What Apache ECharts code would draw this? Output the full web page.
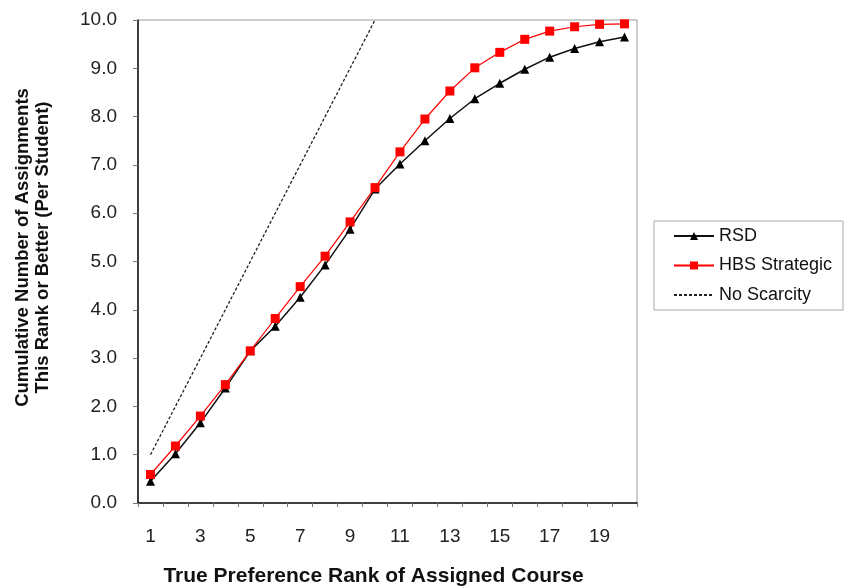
<!DOCTYPE html>
<html>
<head>
<meta charset="utf-8">
<script src="https://cdn.jsdelivr.net/npm/echarts@6/dist/echarts.min.js"></script>
<style>
html,body{margin:0;padding:0;background:#fff;}
#c{width:845px;height:588px;}
</style>
</head>
<body>
<div id="c"></div>
<script>
var ranks = ['1','2','3','4','5','6','7','8','9','10','11','12','13','14','15','16','17','18','19','20'];
var rsd = [0.45,1.02,1.66,2.38,3.15,3.66,4.26,4.93,5.67,6.50,7.02,7.50,7.96,8.37,8.69,8.98,9.23,9.41,9.55,9.65];
var hbsStrategic = [0.59,1.18,1.80,2.45,3.15,3.82,4.48,5.11,5.82,6.53,7.27,7.95,8.53,9.01,9.33,9.60,9.77,9.86,9.91,9.92];
var noScarcity = [1,2,3,4,5,6,7,8,9,10];
var yTicks = [0,1,2,3,4,5,6,7,8,9,10];

var font = 'Liberation Sans, Arial, sans-serif';
var chart = echarts.init(document.getElementById('c'));
chart.setOption({
  animation: false,
  backgroundColor: '#fff',
  grid: {left: 138, right: 208, top: 20, bottom: 85, show: true, borderColor: '#999', borderWidth: 1,
         containLabel: false, outerBoundsMode: 'none'},
  legend: {
    orient: 'vertical', left: 654, top: 221,
    padding: [6, 11, 6, 19],
    borderColor: '#aaa', borderWidth: 1,
    itemWidth: 40, itemHeight: 10, itemGap: 11.5,
    textStyle: {fontFamily: font, fontSize: 18, color: '#111'},
    data: [
      {name: 'RSD'},
      {name: 'HBS Strategic'},
      {name: 'No Scarcity', itemStyle: {opacity: 0}}
    ]
  },
  xAxis: [{
    type: 'category', data: ranks, boundaryGap: true,
    name: 'True Preference Rank of Assigned Course', nameLocation: 'middle', nameGap: 63,
    nameTextStyle: {fontFamily: font, fontSize: 21, fontWeight: 'bold', color: '#111', padding: [0, 28, 0, 0]},
    axisLine: {lineStyle: {color: '#111', width: 1.5}},
    axisTick: {show: true, interval: 0, length: 4, lineStyle: {color: '#777'}},
    axisLabel: {interval: 1, fontFamily: font, fontSize: 19, color: '#222', margin: 24},
    splitLine: {show: false}
  }],
  yAxis: [{
    type: 'value', min: 0, max: 10, interval: 1,
    name: 'Cumulative Number of Assignments\nThis Rank or Better (Per Student)', nameLocation: 'middle', nameGap: 85,
    nameTextStyle: {fontFamily: font, fontSize: 18.5, fontWeight: 'bold', color: '#111', lineHeight: 20,
                    padding: [0, 0, 0, 28]},
    axisLine: {show: true, lineStyle: {color: '#111', width: 1.5}},
    axisTick: {show: true, length: 5, lineStyle: {color: '#777'}},
    axisLabel: {fontFamily: font, fontSize: 19, color: '#222', margin: 21,
      formatter: function (v) { return yTicks.indexOf(v) >= 0 ? v.toFixed(1) : ''; }},
    splitLine: {show: false}
  }],
  series: [
    {
      name: 'No Scarcity', type: 'line', data: noScarcity, symbol: 'none',
      lineStyle: {color: '#222', width: 1.3, type: [3, 2]}, itemStyle: {color: '#222'}, z: 1
    },
    {
      name: 'RSD', type: 'line', data: rsd, symbol: 'triangle', symbolSize: 9,
      lineStyle: {color: '#111', width: 1.5}, itemStyle: {color: '#000'}, z: 2
    },
    {
      name: 'HBS Strategic', type: 'line', data: hbsStrategic, symbol: 'rect', symbolSize: 9,
      lineStyle: {color: '#ff0000', width: 1.2}, itemStyle: {color: '#ff0000'}, z: 3
    }
  ]
});
</script>
</body>
</html>
